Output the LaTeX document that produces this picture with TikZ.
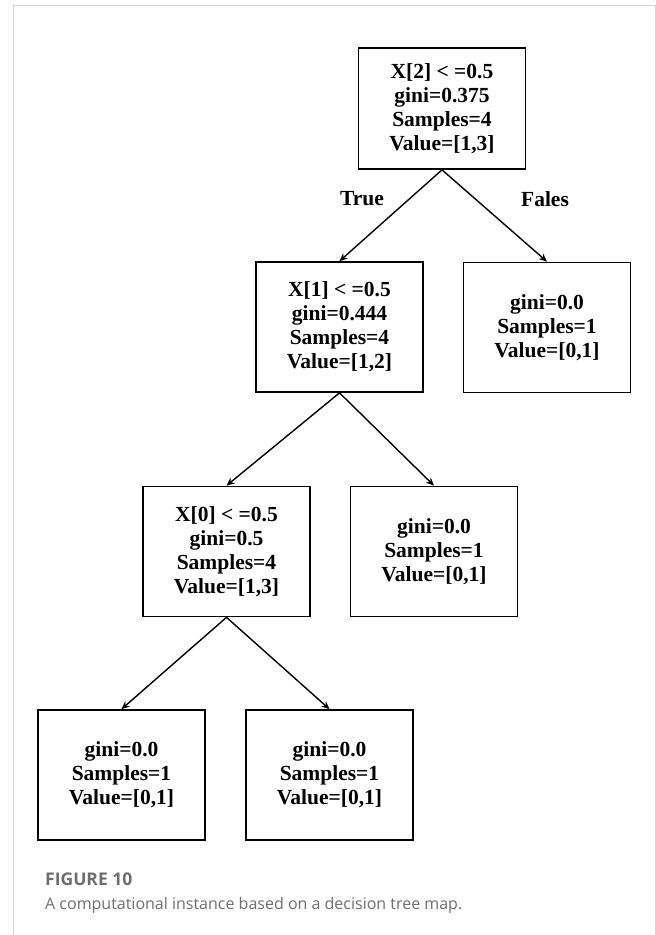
\documentclass[tikz,border=0pt]{standalone}
\usepackage{fontspec}
\usetikzlibrary{arrows.meta}
\setmainfont{Liberation Serif}
\newfontfamily\capfont{Open Sans}
\definecolor{framegray}{HTML}{D4D4D4}
\definecolor{capgray}{HTML}{6E6E6E}
\begin{document}
\begin{tikzpicture}[x=1bp, y=-1bp, >={Stealth[length=8bp, width=7bp]},
	treebox/.style={draw, line width=1.7bp, minimum width=167bp, minimum height=130bp,
		inner sep=0pt, align=center, font=\fontsize{21.5bp}{24bp}\selectfont\bfseries},
	branch/.style={->, line width=1.4bp},
	edgelbl/.style={font=\fontsize{21.5bp}{24bp}\selectfont\bfseries}]
	% Rahmen und Grenzen
	\useasboundingbox (0,0) rectangle (656,935);
	\draw[framegray, line width=1bp] (13,935) -- (13,5) -- (655,5) -- (655,935);

	% Wurzel
	\node[treebox, minimum height=121bp] (root) at (442,108.5) {X[2] < =0.5\\gini=0.375\\Samples=4\\Value=[1,3]};

	% zweite Ebene
	\node[treebox] (xone) at (339.5,327) {X[1] < =0.5\\gini=0.444\\Samples=4\\Value=[1,2]};
	\node[treebox] (leafa) at (547,327.5) {gini=0.0\\Samples=1\\Value=[0,1]};

	% dritte Ebene
	\node[treebox] (xzero) at (226.5,551.5) {X[0] < =0.5\\gini=0.5\\Samples=4\\Value=[1,3]};
	\node[treebox] (leafb) at (434,551.5) {gini=0.0\\Samples=1\\Value=[0,1]};

	% vierte Ebene
	\node[treebox] (leafc) at (121.5,775) {gini=0.0\\Samples=1\\Value=[0,1]};
	\node[treebox] (leafd) at (329.5,775) {gini=0.0\\Samples=1\\Value=[0,1]};

	% Verbindungen
	\draw[branch] (root.south) -- (xone.north);
	\draw[branch] (root.south) -- (leafa.north);
	\draw[branch] (xone.south) -- (xzero.north);
	\draw[branch] (xone.south) -- (leafb.north);
	\draw[branch] (xzero.south) -- (leafc.north);
	\draw[branch] (xzero.south) -- (leafd.north);

	\node[edgelbl] (truelbl) at (362,199) {True};
	\node[edgelbl] (faleslbl) at (545,199) {Fales};

	% Bildunterschrift
	\node[anchor=base west, inner sep=0pt, text=capgray, font=\capfont\fontsize{17.5bp}{20bp}\selectfont\bfseries] (capnum) at (45,885) {FIGURE 10};
	\node[anchor=base west, inner sep=0pt, text=capgray, font=\capfont\fontsize{16bp}{20bp}\selectfont] (captext) at (45,909) {A computational instance based on a decision tree map.};
\end{tikzpicture}
\end{document}
